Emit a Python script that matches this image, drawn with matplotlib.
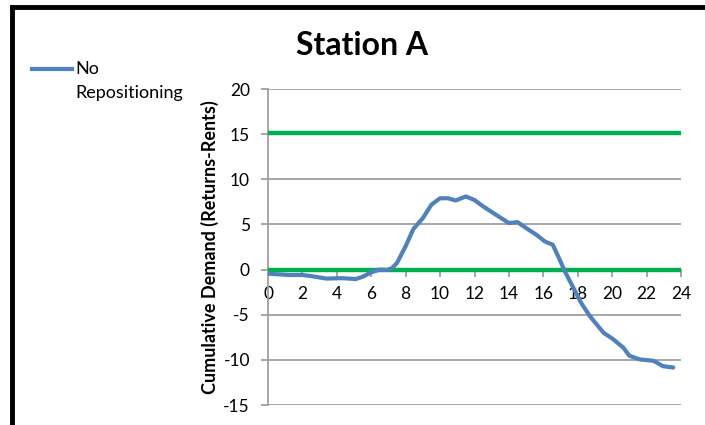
import numpy as np
import matplotlib.pyplot as plt
from matplotlib.lines import Line2D

plt.rcParams['font.family'] = ['Lato', 'DejaVu Sans']
plt.rcParams['axes.unicode_minus'] = False

# hour of day and cumulative demand (returns - rents)
hours = [0, 1.2, 2.0, 2.6, 3.4, 4.3, 5.1, 5.5, 6.0, 6.5, 6.9, 7.2, 7.5, 8.0,
         8.45, 9.0, 9.5, 10.0, 10.45, 10.9, 11.5, 12.0, 12.5, 13.1, 13.55,
         14.0, 14.5, 15.0, 15.6, 16.1, 16.55, 16.95, 17.25, 17.7, 18.2, 18.7,
         19.5, 20.05, 20.65, 21.0, 21.6, 22.4, 22.95, 23.55]
demand = [-0.45, -0.6, -0.6, -0.75, -1.0, -0.95, -1.05, -0.8, -0.3, 0.0,
          -0.05, 0.15, 0.75, 2.6, 4.5, 5.7, 7.2, 7.9, 7.9, 7.65, 8.1, 7.7,
          7.0, 6.25, 5.7, 5.15, 5.25, 4.6, 3.85, 3.1, 2.75, 1.1, -0.2, -1.85,
          -3.7, -5.15, -7.0, -7.7, -8.65, -9.55, -9.95, -10.1, -10.7, -10.85]

# station capacity bounds (green lines)
bounds = [15.15, 0]

series_label = 'No\nRepositioning'
title = 'Station A'
ylabel = 'Cumulative Demand (Returns-Rents)'
xticks = list(range(0, 25, 2))
yticks = list(range(-15, 21, 5))

blue = '#4F81BD'
green = '#00B050'
grey = '#A0A0A0'

fig = plt.figure(figsize=(7.05, 4.25), dpi=100)
ax = fig.add_axes([268 / 705, 1 - 405 / 425, 413 / 705, 316 / 425])

for b in bounds:
    ax.plot([0, 24], [b, b], color=green, lw=3.2, solid_capstyle='butt', zorder=3)
ax.plot(hours, demand, color=blue, lw=3.0, zorder=4, solid_capstyle='round',
        solid_joinstyle='round')

ax.set_xlim(0, 24)
ax.set_ylim(-15, 20)
ax.set_xticks(xticks)
ax.set_yticks(yticks)
ax.yaxis.grid(True, color=grey, lw=1.3)
ax.set_axisbelow(True)

for s in ['top', 'right']:
    ax.spines[s].set_visible(False)
ax.spines['bottom'].set_position(('data', 0))
ax.spines['left'].set_color(grey)
ax.spines['bottom'].set_color(grey)
ax.spines['left'].set_linewidth(1.3)
ax.spines['bottom'].set_linewidth(1.3)
ax.tick_params(axis='both', colors=grey, length=5, width=1.3, labelsize=12.5,
               labelcolor='black')
ax.tick_params(axis='y', pad=8)
ax.tick_params(axis='x', pad=7)

ax.set_ylabel(ylabel, fontsize=13, fontweight='bold', labelpad=3)
fig.text(362 / 705, 1 - 55 / 425, title, fontsize=23, fontweight='bold',
         ha='center', va='baseline')

# legend drawn on the figure
fig.add_artist(Line2D([32 / 705, 72 / 705], [1 - 69 / 425, 1 - 69 / 425],
                      color=blue, lw=3, transform=fig.transFigure))
for i, line in enumerate(series_label.split('\n')):
    fig.text(75 / 705, 1 - (69 + 24 * i) / 425, line, fontsize=13,
             ha='left', va='center')

# black frame on top and left edges
fig.add_artist(Line2D([11.5 / 705, 1], [1 - 7 / 425, 1 - 7 / 425], color='black',
                      lw=3.5, transform=fig.transFigure))
fig.add_artist(Line2D([11.5 / 705, 11.5 / 705], [0, 1 - 7 / 425], color='black',
                      lw=3.5, transform=fig.transFigure))

fig.savefig('out.png', dpi=100)
